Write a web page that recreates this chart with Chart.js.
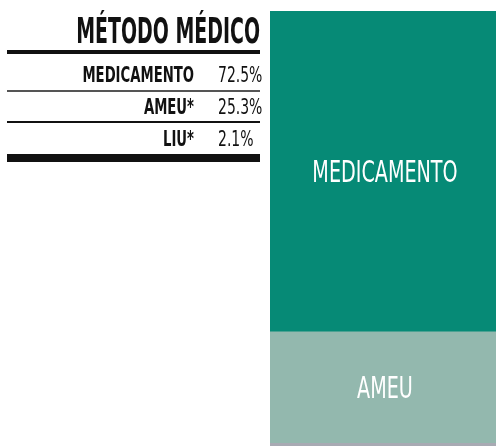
<!DOCTYPE html>
<html>
<head>
<meta charset="utf-8">
<script src="https://cdn.jsdelivr.net/npm/chart.js@4/dist/chart.umd.min.js"></script>
<style>
  html, body { margin: 0; padding: 0; background: #fff; overflow: hidden; }
  #wrap { position: relative; width: 496px; height: 460px; }
</style>
</head>
<body>
<div id="wrap"><canvas id="chart"></canvas></div>
<script>
// data
const title = 'MÉTODO MÉDICO'
const methods = ['MEDICAMENTO', 'AMEU*', 'LIU*']
const barNames = ['MEDICAMENTO', 'AMEU', 'LIU']
const shares = [72.5, 25.3, 2.1]
const colors = ['#068a76', '#93b8ae', '#a8aab3']

const total = shares.reduce((a, b) => a + b, 0)

// condensed look: squeeze text horizontally around its anchor
function squeezeText(ctx, text, x, y, align, sx) {
	ctx.save()
	ctx.translate(x, y)
	ctx.scale(sx, 1)
	ctx.textAlign = align
	ctx.fillText(text, 0, 0)
	ctx.restore()
}

const tablePlugin = {
	id: 'sideTable',
	afterDraw(chart) {
		const ctx = chart.ctx
		ctx.save()
		ctx.fillStyle = '#111'
		ctx.textBaseline = 'alphabetic'
		ctx.font = 'bold 36px "DejaVu Sans Condensed"'
		squeezeText(ctx, title, 260, 43, 'right', 0.585)

		ctx.fillRect(7, 50, 253, 4)
		const rows = [82, 114, 146]
		methods.forEach((m, i) => {
			ctx.fillStyle = '#111'
			ctx.font = 'bold 21px "DejaVu Sans Condensed"'
			squeezeText(ctx, m, 194, rows[i], 'right', 0.7)
			ctx.font = '21px "DejaVu Sans Condensed"'
			squeezeText(ctx, shares[i].toFixed(1) + '%', 218, rows[i], 'left', 0.74)
		})
		ctx.fillStyle = '#555'
		ctx.fillRect(7, 90, 253, 2)
		ctx.fillStyle = '#111'
		ctx.fillRect(7, 121, 253, 2)
		ctx.fillRect(7, 154, 253, 8)
		ctx.restore()
	}
}

// white name in the middle of each segment tall enough to hold it
const barLabelPlugin = {
	id: 'barLabels',
	afterDatasetsDraw(chart) {
		const ctx = chart.ctx
		ctx.save()
		ctx.fillStyle = '#fff'
		ctx.font = '30px "DejaVu Sans Condensed"'
		ctx.textBaseline = 'middle'
		chart.data.datasets.forEach((ds, i) => {
			const bar = chart.getDatasetMeta(i).data[0]
			const h = Math.abs(bar.base - bar.y)
			if (h < 40) return
			squeezeText(ctx, barNames[i], bar.x + 2, (bar.y + bar.base) / 2 + 3, 'center', 0.71)
		})
		ctx.restore()
	}
}

new Chart(document.getElementById('chart'), {
	type: 'bar',
	data: {
		labels: [title],
		datasets: methods.map((m, i) => ({
			label: m,
			data: [shares[i]],
			backgroundColor: colors[i],
			borderWidth: 0,
			barPercentage: 1,
			categoryPercentage: 1
		}))
	},
	options: {
		responsive: true,
		maintainAspectRatio: false,
		animation: false,
		layout: { padding: { left: 270, right: 0, top: 11, bottom: 8 } },
		plugins: { legend: { display: false }, tooltip: { enabled: false } },
		scales: {
			x: { stacked: true, display: false },
			y: { stacked: true, display: false, reverse: true, min: 0, max: total }
		}
	},
	plugins: [tablePlugin, barLabelPlugin]
})
</script>
</body>
</html>
